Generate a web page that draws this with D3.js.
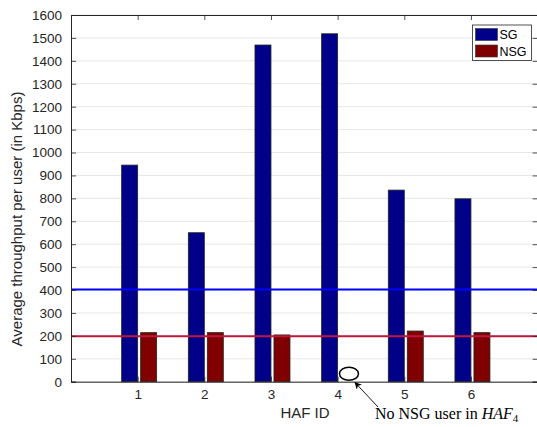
<!DOCTYPE html>
<html>
<head>
<meta charset="utf-8">
<script src="https://cdn.jsdelivr.net/npm/d3@7"></script>
<style>
body { margin: 0; background: #fff; }
text { font-family: "Liberation Sans", Arial, sans-serif; fill: #262626; }
</style>
</head>
<body>
<div id="viz"></div>
<script>
var width = 537;
var height = 427;

// data
var hafIds = [1, 2, 3, 4, 5, 6];
var sgValues = [945, 650, 1469, 1518, 836, 798];
var nsgValues = [214, 214, 204, 0, 221, 214];
var yTicks = [0, 100, 200, 300, 400, 500, 600, 700, 800, 900, 1000, 1100, 1200, 1300, 1400, 1500, 1600];
var refLines = [{ value: 402, color: "#0000ff" }, { value: 198, color: "#c0183c" }];
var legendNames = ["SG", "NSG"];
var colors = ["#000088", "#800000"];

var margin = { left: 71, top: 15 };

var svg = d3.select("#viz").append("svg")
   .attr("width", width)
   .attr("height", height);

var x = d3.scaleLinear().domain([0, 7]).range([margin.left, 537.6]);
var y = d3.scaleLinear().domain([0, 1600]).range([381.7, margin.top]);
var unit = x(1) - x(0);

// grid
svg.append("g").selectAll("line").data(yTicks).enter().append("line")
   .attr("x1", x(0)).attr("x2", x(7))
   .attr("y1", function(d) { return y(d); })
   .attr("y2", function(d) { return y(d); })
   .style("stroke", "#e6e6e6")
   .style("stroke-width", 1);

// bars
var barW = 0.24 * unit;
svg.append("g").selectAll("rect").data(hafIds).enter().append("rect")
   .attr("x", function(d) { return x(d) - barW; })
   .attr("y", function(d, i) { return y(sgValues[i]); })
   .attr("width", barW)
   .attr("height", function(d, i) { return y(0) - y(sgValues[i]); })
   .style("fill", colors[0])
   .style("stroke", "#222")
   .style("stroke-width", 0.8);

svg.append("g").selectAll("rect").data(hafIds.filter(function(d, i) { return nsgValues[i] > 0; })).enter().append("rect")
   .attr("x", function(d) { return x(d) + 0.045 * unit; })
   .attr("y", function(d) { return y(nsgValues[d - 1]); })
   .attr("width", barW)
   .attr("height", function(d) { return y(0) - y(nsgValues[d - 1]); })
   .style("fill", colors[1])
   .style("stroke", "#222")
   .style("stroke-width", 0.8);

// reference lines
svg.append("g").selectAll("line").data(refLines).enter().append("line")
   .attr("x1", x(0)).attr("x2", x(7))
   .attr("y1", function(d) { return y(d.value); })
   .attr("y2", function(d) { return y(d.value); })
   .style("stroke", function(d) { return d.color; })
   .style("stroke-width", 2);

// axes
var xAxis = svg.append("g")
   .attr("transform", "translate(0," + y(0) + ")")
   .call(d3.axisBottom(x).tickValues(hafIds).tickSize(-5).tickPadding(9).tickFormat(d3.format("d")));
var xTop = svg.append("g")
   .attr("transform", "translate(0," + y(1600) + ")")
   .call(d3.axisTop(x).tickValues(hafIds).tickSize(-5).tickFormat(""));
var yAxis = svg.append("g")
   .attr("transform", "translate(" + x(0) + ",0)")
   .call(d3.axisLeft(y).tickValues(yTicks).tickSize(-5).tickPadding(9).tickFormat(d3.format("d")));
var yRight = svg.append("g")
   .attr("transform", "translate(" + x(7) + ",0)")
   .call(d3.axisRight(y).tickValues(yTicks).tickSize(-5).tickFormat(""));

[xAxis, xTop, yAxis, yRight].forEach(function(g) {
   g.select(".domain").style("stroke", "#262626").style("stroke-width", 1);
   g.selectAll(".tick line").style("stroke", "#262626").style("stroke-width", 0.8);
   g.selectAll(".tick text").style("font-size", "13.5px").style("fill", "#262626")
      .style("font-family", "'Liberation Sans', Arial, sans-serif");
});
xAxis.selectAll(".tick text").attr("dy", "0.62em");

// axis labels
svg.append("text")
   .attr("x", 305).attr("y", 418)
   .attr("text-anchor", "middle")
   .style("font-size", "15px")
   .text("HAF ID");

svg.append("text")
   .attr("transform", "translate(22,219) rotate(-90)")
   .attr("text-anchor", "middle")
   .style("font-size", "15px")
   .text("Average throughput per user (in Kbps)");

// legend
var legend = svg.append("g").attr("transform", "translate(472.5,25)");
legend.append("rect")
   .attr("width", 59).attr("height", 35.5)
   .style("fill", "#fff").style("stroke", "#262626").style("stroke-width", 0.8);
legendNames.forEach(function(name, i) {
   legend.append("rect")
      .attr("x", 3).attr("y", 3.5 + i * 16.5)
      .attr("width", 22).attr("height", 12)
      .style("fill", colors[i]).style("stroke", "#333").style("stroke-width", 0.6);
   legend.append("text")
      .attr("x", 27).attr("y", 14 + i * 16.5)
      .style("font-size", "12.5px")
      .style("fill", "#000")
      .text(name);
});

// annotation for missing NSG in HAF 4
svg.append("ellipse")
   .attr("cx", x(4) + 0.17 * unit).attr("cy", y(35))
   .attr("rx", 9.5).attr("ry", 6.5)
   .style("fill", "#fff").style("stroke", "#000").style("stroke-width", 1.5);

svg.append("defs").append("marker")
   .attr("id", "arrow")
   .attr("viewBox", "0 0 10 10")
   .attr("refX", 9).attr("refY", 5)
   .attr("markerWidth", 8).attr("markerHeight", 8)
   .attr("orient", "auto")
   .append("path")
   .attr("d", "M0,0 L10,5 L0,10 L3,5 z")
   .style("fill", "#000");

svg.append("line")
   .attr("x1", 378).attr("y1", 407)
   .attr("x2", 355).attr("y2", 382.5)
   .style("stroke", "#000").style("stroke-width", 0.9)
   .attr("marker-end", "url(#arrow)");

var note = svg.append("text")
   .attr("x", 375).attr("y", 418.5)
   .style("font-family", "'Liberation Serif', 'DejaVu Serif', serif")
   .style("font-size", "16px")
   .style("fill", "#000");
note.append("tspan").text("No NSG user in ");
note.append("tspan").style("font-style", "italic").text("HAF");
note.append("tspan").style("font-size", "11px").attr("dy", 3).text("4");
</script>
</body>
</html>
